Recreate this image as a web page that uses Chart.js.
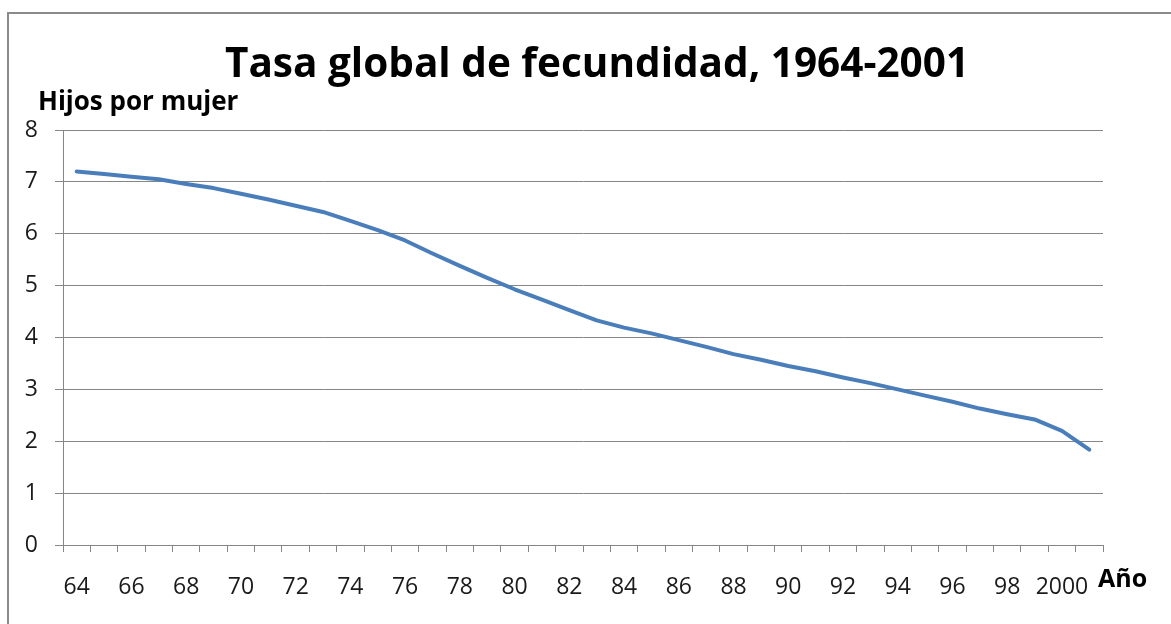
<!DOCTYPE html>
<html>
<head>
<meta charset="utf-8">
<script src="https://cdn.jsdelivr.net/npm/chart.js@4"></script>
<style>
  html, body { margin: 0; padding: 0; background: #ffffff; }
  #wrap { position: relative; width: 1171px; height: 624px; overflow: hidden; }
  #frame { position: absolute; left: 7px; top: 12px; width: 1200px; height: 700px;
           border-left: 2px solid #8a8a8a; border-top: 2px solid #8a8a8a; box-sizing: border-box; }
  canvas { position: absolute; left: 0; top: 0; }
</style>
</head>
<body>
<div id="wrap">
  <div id="frame"></div>
  <canvas id="c" width="1171" height="624"></canvas>
</div>
<script>
// ---- data ----
const years = [1964,1965,1966,1967,1968,1969,1970,1971,1972,1973,
               1974,1975,1976,1977,1978,1979,1980,1981,1982,1983,
               1984,1985,1986,1987,1988,1989,1990,1991,1992,1993,
               1994,1995,1996,1997,1998,1999,2000,2001];
const fertility = [7.20,7.15,7.10,7.05,6.96,6.88,6.77,6.66,6.54,6.42,
                   6.25,6.07,5.87,5.62,5.38,5.15,4.93,4.73,4.53,4.33,
                   4.19,4.08,3.95,3.82,3.68,3.57,3.45,3.35,3.23,3.12,
                   3.00,2.88,2.76,2.63,2.52,2.42,2.20,1.84];
const xTickLabels = ['64','66','68','70','72','74','76','78','80','82',
                     '84','86','88','90','92','94','96','98','2000'];
const yTicks = [0,1,2,3,4,5,6,7,8];
const titleText = 'Tasa global de fecundidad, 1964-2001';
const yTitleText = 'Hijos por mujer';
const xTitleText = 'Año';

const GRID = '#868686';
const FONT = "'Open Sans', 'DejaVu Sans', sans-serif";

const textPlugin = {
  id: 'texts',
  afterDraw(chart) {
    const ctx = chart.ctx;
    ctx.save();
    ctx.fillStyle = '#000';
    ctx.textBaseline = 'middle';
    ctx.textAlign = 'center';
    ctx.font = "bold 40.5px " + FONT;
    ctx.fillText(titleText, 597, 65);
    ctx.textAlign = 'left';
    ctx.font = "bold 26px " + FONT;
    ctx.fillText(yTitleText, 38, 103);
    ctx.font = "bold 25px " + FONT;
    ctx.fillText(xTitleText, 1098, 580);
    ctx.restore();
  }
};

new Chart(document.getElementById('c'), {
  type: 'line',
  data: {
    labels: years,
    datasets: [{
      data: fertility,
      borderColor: '#4A7EBB',
      borderWidth: 4,
      pointRadius: 0,
      tension: 0,
      fill: false,
      borderCapStyle: 'round',
      borderJoinStyle: 'round'
    }]
  },
  options: {
    responsive: false,
    animation: false,
    devicePixelRatio: 1,
    layout: { padding: { left: 0, right: 68, top: 130, bottom: 19 } },
    plugins: { legend: { display: false }, tooltip: { enabled: false }, title: { display: false } },
    scales: {
      x: {
        offset: true,
        afterFit(scale) { scale.height = 60; },
        grid: { display: true, offset: true, drawOnChartArea: false, drawTicks: true,
                tickLength: 7, color: GRID, lineWidth: 1 },
        border: { display: true, color: GRID, width: 1 },
        ticks: {
          autoSkip: false, maxRotation: 0, minRotation: 0, padding: 22,
          color: '#1a1a1a', font: { family: FONT, size: 23 },
          callback: (v, i) => (i % 2 === 0 ? xTickLabels[i / 2] : '')
        }
      },
      y: {
        min: yTicks[0], max: yTicks[yTicks.length - 1],
        afterFit(scale) { scale.width = 63; },
        afterBuildTicks(scale) { scale.ticks = yTicks.map(v => ({ value: v })); },
        grid: { color: GRID, lineWidth: 1, drawTicks: true, tickLength: 8 },
        border: { display: true, color: GRID, width: 1 },
        ticks: { padding: 17, color: '#1a1a1a', font: { family: FONT, size: 23 } }
      }
    }
  },
  plugins: [textPlugin]
});
</script>
</body>
</html>
